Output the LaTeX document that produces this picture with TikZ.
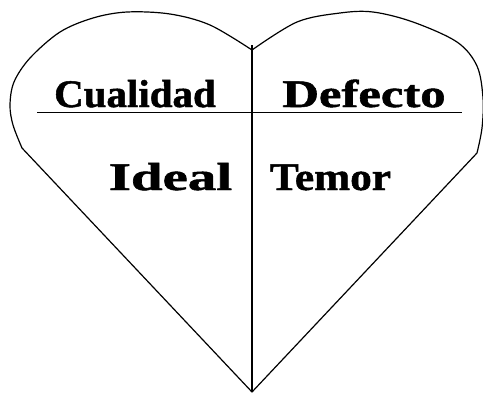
\documentclass[tikz,border=0pt]{standalone}
\usepackage{fontspec}
\setmainfont{Liberation Serif}[BoldFeatures={FakeBold=1.2}]
\tikzset{
  edge/.style={black, line width=1.2pt, line join=round},
  word/.style={font=\bfseries\fontsize{39}{42}\selectfont, inner sep=0pt, anchor=base}
}
\begin{document}
\begin{tikzpicture}[x=1pt,y=-1pt]
			\useasboundingbox (0,0) rectangle (483,392);

			\coordinate (notch) at (252,50);
			\coordinate (tip) at (252,392);
			\coordinate (lside) at (22,148);
			\coordinate (rside) at (477,153);

			% heart outline
			\draw[edge] plot[smooth, tension=0.55] coordinates {(252,50) (210,25) (170,14) (127,12) (93,18) (60,32) (30,58) (14,82) (10,105) (13,125) (22,148)}
			-- (tip) -- (rside)
			plot[smooth, tension=0.55] coordinates {(477,153) (482,128) (483,98) (477,66) (457,42) (413,22) (373,12) (340,13) (297,22) (252,50)};

			\draw[edge] (252,45) -- (tip);
			\draw[edge] (37,112.5) -- (462,112.5);

			\node[word] (cual) at (135,107) {\scalebox{1.05}[1]{Cualidad}};
			\node[word] (defe) at (364,107) {\scalebox{1.3}[1]{Defecto}};
			\node[word] (idea) at (170.5,190) {\scalebox{1.46}[1]{Ideal}};
			\node[word] (temo) at (330.5,190) {\scalebox{1.11}[1]{Temor}};
		\end{tikzpicture}
\end{document}
